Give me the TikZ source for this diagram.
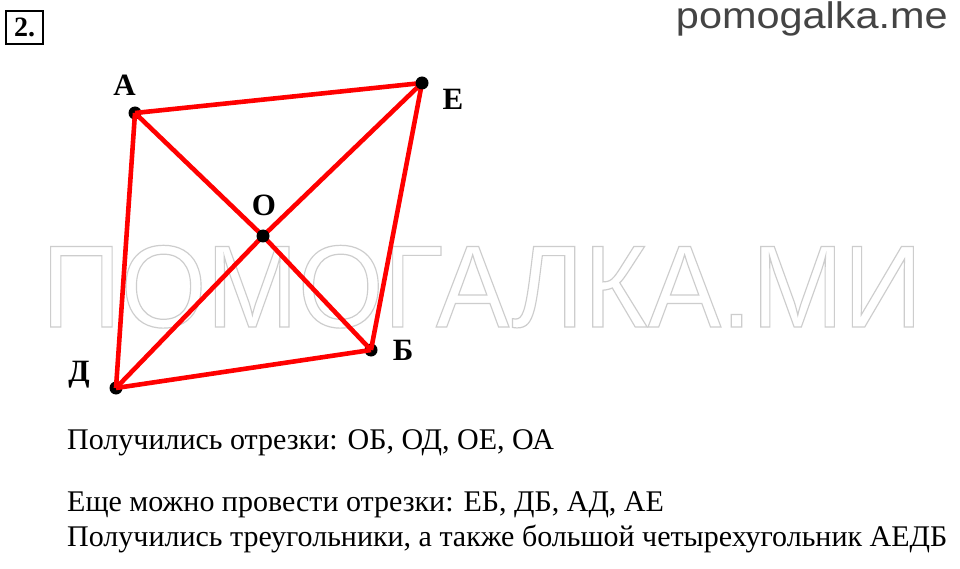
\documentclass[tikz,border=0pt]{standalone}
\usepackage{fontspec}
\setmainfont{Liberation Serif}
\newfontfamily\arialf{Liberation Sans}
\definecolor{redline}{RGB}{255,0,0}
\definecolor{sitegray}{RGB}{68,68,68}
\definecolor{wmgray}{RGB}{205,205,205}
\newcommand{\outlinetext}[1]{\special{pdf:literal direct 1 Tr 1.2 w}#1\special{pdf:literal direct 0 Tr}}
\pgfdeclarelayer{wmlayer}
\pgfdeclarelayer{underlayer}
\pgfdeclarelayer{linelayer}
\pgfsetlayers{wmlayer,underlayer,linelayer,main}
\begin{document}
\begin{tikzpicture}[x=1pt,y=-1pt,
  seg/.style={draw=redline,line width=4.6pt},
  dotpt/.style={circle,fill=black,inner sep=0pt,minimum size=13pt},
  ptlabel/.style={font=\fontsize{31}{31}\selectfont\bfseries,inner sep=0pt,anchor=base},
  bodytext/.style={font=\fontsize{30}{30}\selectfont,anchor=base west,inner sep=0pt}]
\begin{pgfonlayer}{wmlayer}
\useasboundingbox[fill=white] (0,0) rectangle (960,569);
\node[inner sep=0pt,anchor=center,xscale=0.94,text=wmgray,text height=84pt,text depth=0pt] (wm) at (482,285)
  {\arialf\fontsize{117}{117}\selectfont\outlinetext{ПОМОГАЛКА.МИ}};
\end{pgfonlayer}
% header
\node[draw=black,line width=1.8pt,minimum width=37pt,minimum height=33pt,inner sep=0pt,
  font=\fontsize{28}{28}\selectfont\bfseries] (num) at (24.5,27.5) {2.};
\node[anchor=base east,inner sep=0pt,text=sitegray,xscale=1.12,text height=27pt,
  font=\arialf\fontsize{37}{37}\selectfont] (site) at (948,29) {pomogalka.me};
% points
\begin{pgfonlayer}{underlayer}
\node[dotpt] (A) at (135,113) {};
\node[dotpt] (D) at (116,388) {};
\node[dotpt] (B) at (371,350) {};
\end{pgfonlayer}
\node[dotpt] (E) at (422,83) {};
\node[dotpt] (O) at (263,236) {};
% segments
\begin{pgfonlayer}{linelayer}
\draw[seg] (A.center) -- (E.center);
\draw[seg] (E.center) -- (B.center);
\draw[seg] (B.center) -- (D.center);
\draw[seg] (D.center) -- (A.center);
\draw[seg] (A.center) -- (O.center);
\draw[seg] (O.center) -- (B.center);
\draw[seg] (E.center) -- (O.center);
\draw[seg] (O.center) -- (D.center);
\end{pgfonlayer}
% labels
\node[ptlabel] (lA) at (124.5,96) {А};
\node[ptlabel] (lE) at (453,110) {Е};
\node[ptlabel] (lO) at (264,216) {О};
\node[ptlabel] (lB) at (403,360) {Б};
\node[ptlabel] (lD) at (79,381) {Д};
% text
\node[bodytext] (t1) at (67,449) {Получились отрезки: ОБ, ОД, ОЕ, ОА};
\node[bodytext] (t2) at (67,511) {Еще можно провести отрезки: ЕБ, ДБ, АД, АЕ};
\node[bodytext] (t3) at (67,546) {Получились треугольники, а также большой четырехугольник АЕДБ};
\end{tikzpicture}
\end{document}
